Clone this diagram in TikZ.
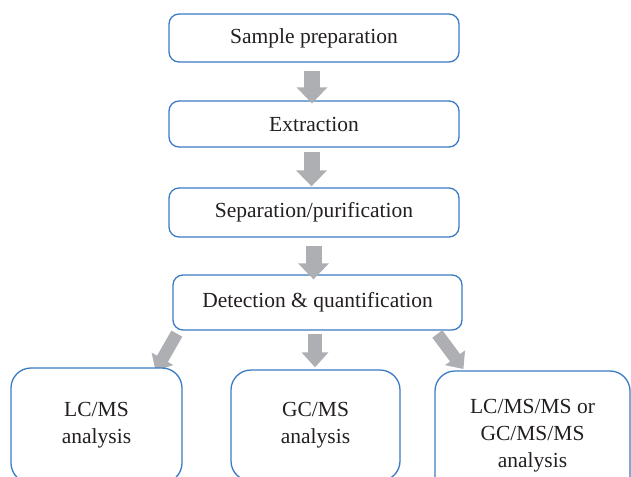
\documentclass[tikz,border=0pt]{standalone}
\usepackage{fontspec}
\setmainfont{Liberation Serif}
\usetikzlibrary{arrows.meta}
\definecolor{boxblue}{HTML}{3A7CC3}
\definecolor{arrgray}{HTML}{AEAFB2}
\definecolor{txt}{HTML}{231F20}
\tikzset{
  topbox/.style={draw=boxblue, line width=1.3pt, fill=white, rounded corners=10pt,
    inner sep=0pt, text=txt, font=\fontsize{21.5}{27}\selectfont},
  botbox/.style={draw=boxblue, line width=1.3pt, fill=white, rounded corners=20pt,
    inner sep=0pt, align=center, text=txt, font=\fontsize{21.5}{27}\selectfont},
  vblk/.style={draw=arrgray, line width=16pt, -{Triangle[width=30pt,length=16pt]}},
  dblk/.style={draw=arrgray, line width=12.5pt, -{Triangle[width=24pt,length=14pt]}},
}
\begin{document}
\begin{tikzpicture}[x=1pt,y=-1pt]
\useasboundingbox (0,0) rectangle (631,476);
\clip (0,0) rectangle (631,476);
\node[topbox, minimum width=290pt, minimum height=48pt] (s1) at (314,38) {Sample preparation};
\node[topbox, minimum width=290pt, minimum height=46pt] (s2) at (314,124) {Extraction};
\node[topbox, minimum width=290pt, minimum height=49pt] (s3) at (314,212.5) {Separation/purification};
\node[topbox, minimum width=289pt, minimum height=55pt] (s4) at (317.5,302.5) {Detection \& quantification};
% diagonal arrows (under bottom boxes)
\coordinate (lcne) at (182,368);
\coordinate (msnw) at (435,371);
\draw[dblk] ([xshift=4.5pt,yshift=-3pt]s4.south west) -- ([xshift=-26.5pt,yshift=-3pt]lcne);
\draw[dblk] ([xshift=-25.3pt,yshift=-3.3pt]s4.south east) -- ([xshift=28.4pt,yshift=2pt]msnw);
\node[botbox, minimum width=171pt, minimum height=115pt] (lc) at (96.5,425.5) {LC/MS\\analysis};
\node[botbox, minimum width=169pt, minimum height=111pt] (gc) at (315.5,425.5) {GC/MS\\analysis};
\node[botbox, minimum width=195pt, minimum height=130pt] (ms) at (532.5,436) {LC/MS/MS or\\GC/MS/MS\\analysis};
% vertical arrows (over boxes)
\draw[vblk] ([xshift=-2pt,yshift=-8pt]s1.south) -- ([xshift=-2pt,yshift=-3pt]s2.north);
\draw[vblk] ([xshift=-2.5pt,yshift=-4pt]s2.south) -- ([xshift=-2.5pt,yshift=1pt]s3.north);
\draw[vblk] ([xshift=-0.5pt,yshift=-8pt]s3.south) -- ([xshift=-4pt,yshift=-5pt]s4.north);
\draw[draw=arrgray, line width=14pt, -{Triangle[width=26pt,length=15pt]}] ([xshift=-2.5pt,yshift=-3pt]s4.south) -- ([xshift=-0.5pt,yshift=2pt]gc.north);
\end{tikzpicture}
\end{document}
